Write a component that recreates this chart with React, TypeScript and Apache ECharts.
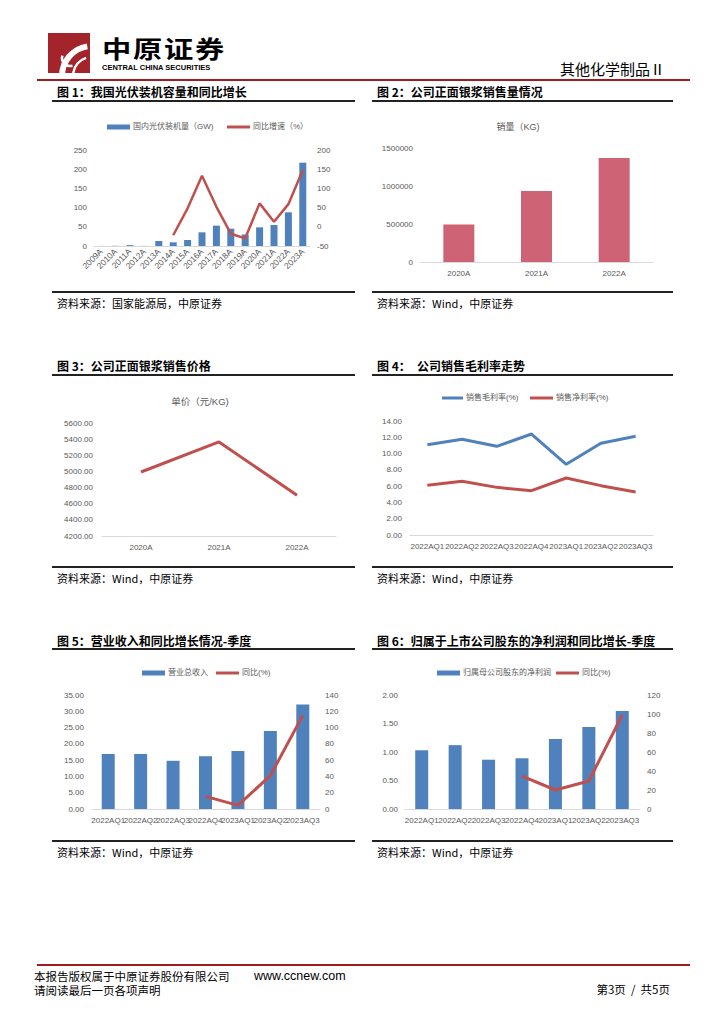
import React, { useEffect, useRef } from 'react';
import * as echarts from 'echarts';

const FONT = "'Liberation Sans', 'Noto Sans CJK SC', sans-serif";
const CJK = "'Noto Sans CJK SC', 'Liberation Sans', sans-serif";

// Figure 1
const pvYears = ['2009A', '2010A', '2011A', '2012A', '2013A', '2014A', '2015A', '2016A', '2017A', '2018A', '2019A', '2020A', '2021A', '2022A', '2023A'];
const pvCapacity = [0.16, 0.5, 2.2, 0.3, 13, 9.5, 15.6, 35.6, 53, 45, 30, 48.6, 54.7, 87.7, 217];
const pvGrowth = [null, null, null, null, null, -22, 48, 133, 52, -18, -30, 61, 13, 59, 148];

// Figure 2 & 3
const salesYears = ['2020A', '2021A', '2022A'];
const salesVolume = [494000, 935000, 1368000];
const unitPrice = [4993, 5365, 4704];

// Figure 4, 5, 6
const quarters = ['2022AQ1', '2022AQ2', '2022AQ3', '2022AQ4', '2023AQ1', '2023AQ2', '2023AQ3'];
const grossMargin = [11.09, 11.75, 10.89, 12.4, 8.68, 11.26, 12.12];
const netMargin = [6.1, 6.59, 5.85, 5.44, 7.0, 6.06, 5.28];
const revenue = [16.9, 16.9, 14.8, 16.2, 17.8, 23.95, 32.1];
const revenueYoY = [null, null, null, 15.5, 4.5, 41, 115];
const netProfit = [1.03, 1.12, 0.865, 0.89, 1.23, 1.44, 1.72];
const netProfitYoY = [null, null, null, 34.7, 20, 29.5, 99];

const BLUE = '#4f81bd';
const RED = '#c0504d';
const PINK = '#cd6375';
const GRAY = '#595959';

const axisLabelBase = { color: GRAY, fontSize: 8, fontFamily: FONT };

const catAxis = (gridIndex: number, data: string[], extra: any = {}) => ({
  type: 'category',
  gridIndex,
  data,
  axisTick: { show: false },
  axisLine: { lineStyle: { color: '#d9d9d9', width: 1 } },
  axisLabel: { ...axisLabelBase, interval: 0, margin: 7, ...(extra.axisLabel || {}) },
});

const valAxis = (gridIndex: number, min: number, max: number, interval: number, position: string, fmt?: any, margin = 7) => ({
  type: 'value',
  gridIndex,
  min,
  max,
  interval,
  position,
  splitLine: { show: false },
  axisLine: { show: false },
  axisTick: { show: false },
  axisLabel: { ...axisLabelBase, margin, formatter: fmt || ((v: number) => String(v)) },
});

const txt = (x: number, y: number, text: string, o: any = {}) => ({
  type: 'text',
  x,
  y,
  scaleX: o.scaleX || 1,
  silent: true,
  style: {
    text,
    fill: o.fill || '#000',
    fontSize: o.fontSize || 11,
    fontFamily: o.fontFamily || CJK,
    fontWeight: o.fontWeight || 'normal',
    textAlign: o.align || 'left',
    align: o.align || 'left',
    textVerticalAlign: 'middle',
    verticalAlign: 'middle',
  },
});

const hline = (x1: number, x2: number, y: number, w: number, color: string) => ({
  type: 'line',
  silent: true,
  shape: { x1, y1: y, x2, y2: y },
  style: { stroke: color, lineWidth: w },
});

const legendBase = {
  orient: 'horizontal',
  padding: 0,
  itemGap: 0,
  itemWidth: 23,
  itemHeight: 5,
  selectedMode: false,
  textStyle: { color: GRAY, fontSize: 8, fontFamily: FONT, padding: [0, 0, 0, -2] },
};
const lineLegend = { ...legendBase, itemHeight: 3 };

export default function App() {
  const ref = useRef<HTMLDivElement>(null);
  useEffect(() => {
    if (!ref.current) return;
    const chart = echarts.init(ref.current, null, { renderer: 'svg' });
    const TITLE = { fontSize: 12, fontWeight: 'bold', fontFamily: CJK };
    const SRC = { fontSize: 11, fontFamily: CJK };
    const LOGO = { fontSize: 24, fontWeight: 700, scaleX: 1.22 };
    const graphics: any[] = [
      // Header logo
      { type: 'rect', shape: { x: 48, y: 33, width: 42, height: 40 }, style: { fill: '#a3242a' } },
      { type: 'arc', shape: { cx: 92, cy: 76, r: 30, startAngle: Math.PI * 1.0, endAngle: Math.PI * 1.45, clockwise: true }, style: { stroke: '#fff', lineWidth: 6, fill: null } },
      { type: 'arc', shape: { cx: 92, cy: 76, r: 19, startAngle: Math.PI * 1.05, endAngle: Math.PI * 1.4, clockwise: true }, style: { stroke: '#fff', lineWidth: 2.5, fill: null } },
      { type: 'arc', shape: { cx: 70, cy: 58, r: 8, startAngle: Math.PI * 0.4, endAngle: Math.PI * 1.1, clockwise: true }, style: { stroke: '#fff', lineWidth: 2.5, fill: null } },
      txt(102, 48, '中', LOGO),
      txt(133, 48, '原', LOGO),
      txt(164, 48, '证', LOGO),
      txt(195, 48, '券', LOGO),
      txt(102, 67, 'CENTRAL CHINA SECURITIES', { fontSize: 7.5, fontWeight: 'bold', fontFamily: FONT }),
      txt(560, 68, '其他化学制品Ⅱ', { fontSize: 15 }),
      hline(37, 690, 80, 2, '#9e1b1f'),

      // Figure titles row 1
      txt(57, 91, '图 1：我国光伏装机容量和同比增长', TITLE),
      hline(52, 355, 101, 2, '#222'),
      txt(377, 91, '图 2：公司正面银浆销售量情况', TITLE),
      hline(372, 673, 101, 2, '#222'),
      hline(52, 355, 292, 2, '#222'),
      txt(57, 303, '资料来源：国家能源局，中原证券', SRC),
      hline(372, 673, 292, 2, '#222'),
      txt(377, 303, '资料来源：Wind，中原证券', SRC),
      txt(518, 127, '销量（KG)', { fontSize: 9, fill: GRAY, align: 'center', fontFamily: FONT }),

      // Row 2
      txt(57, 365, '图 3：公司正面银浆销售价格', TITLE),
      hline(52, 355, 375, 2, '#222'),
      txt(377, 365, '图 4：', TITLE),
      txt(417, 365, '公司销售毛利率走势', TITLE),
      hline(372, 673, 375, 2, '#222'),
      hline(52, 355, 567, 2, '#222'),
      txt(57, 578, '资料来源：Wind，中原证券', SRC),
      hline(372, 673, 567, 2, '#222'),
      txt(377, 578, '资料来源：Wind，中原证券', SRC),
      txt(200, 401, '单价（元/KG)', { fontSize: 9.5, fill: GRAY, align: 'center', fontFamily: FONT }),

      // Row 3
      txt(57, 640, '图 5：营业收入和同比增长情况-季度', TITLE),
      hline(52, 355, 649, 2, '#222'),
      txt(377, 640, '图 6：归属于上市公司股东的净利润和同比增长-季度', TITLE),
      hline(372, 673, 649, 2, '#222'),
      hline(52, 355, 841, 2, '#222'),
      txt(57, 852, '资料来源：Wind，中原证券', SRC),
      hline(372, 673, 841, 2, '#222'),
      txt(377, 852, '资料来源：Wind，中原证券', SRC),

      // Footer
      hline(37, 690, 965, 2, '#9e1b1f'),
      txt(34, 976, '本报告版权属于中原证券股份有限公司', { fontSize: 11.5 }),
      txt(254, 976, 'www.ccnew.com', { fontSize: 12.5, fontFamily: FONT }),
      txt(34, 990, '请阅读最后一页各项声明', { fontSize: 11.5 }),
      txt(670, 989, '第3页  /  共5页', { fontSize: 11.5, align: 'right' }),
    ];

    const option: any = {
      animation: false,
      backgroundColor: '#fff',
      textStyle: { fontFamily: FONT },
      grid: [
        { left: 94, top: 150, width: 216, height: 96 },
        { left: 420, top: 148, width: 233, height: 114 },
        { left: 102, top: 423, width: 234, height: 113 },
        { left: 410, top: 421, width: 243, height: 114 },
        { left: 92, top: 695, width: 227, height: 114 },
        { left: 405, top: 695, width: 234, height: 114 },
      ],
      xAxis: [
        catAxis(0, pvYears, { axisLabel: { rotate: 45, margin: 4, fontSize: 8.5 } }),
        catAxis(1, salesYears),
        catAxis(2, salesYears),
        catAxis(3, quarters),
        catAxis(4, quarters),
        catAxis(5, quarters),
      ],
      yAxis: [
        valAxis(0, 0, 250, 50, 'left'),
        valAxis(0, -50, 200, 50, 'right'),
        valAxis(1, 0, 1500000, 500000, 'left'),
        valAxis(2, 4200, 5600, 200, 'left', (v: number) => v.toFixed(2), 9),
        valAxis(3, 0, 14, 2, 'left', (v: number) => v.toFixed(2), 8),
        valAxis(4, 0, 35, 5, 'left', (v: number) => v.toFixed(2), 8),
        valAxis(4, 0, 140, 20, 'right', undefined, 6),
        valAxis(5, 0, 2, 0.5, 'left', (v: number) => v.toFixed(2), 7),
        valAxis(5, 0, 120, 20, 'right', undefined, 8),
      ],
      legend: [
        { ...legendBase, left: 107, top: 123, data: [{ name: '国内光伏装机量（GW)', icon: 'rect' }] },
        { ...lineLegend, left: 227, top: 123, data: [{ name: '同比增速（%）', icon: 'rect' }] },
        { ...lineLegend, left: 442, top: 394, itemWidth: 21, data: [{ name: '销售毛利率(%)', icon: 'rect' }] },
        { ...lineLegend, left: 530, top: 394, data: [{ name: '销售净利率(%)', icon: 'rect' }] },
        { ...legendBase, left: 142, top: 669, data: [{ name: '营业总收入', icon: 'rect' }] },
        { ...lineLegend, left: 216, top: 669, data: [{ name: '同比(%)', icon: 'rect' }] },
        { ...legendBase, left: 437, top: 669, data: [{ name: '归属母公司股东的净利润', icon: 'rect' }] },
        { ...lineLegend, left: 556, top: 669, data: [{ name: '同比(%) ', icon: 'rect' }] },
      ],
      series: [
        { name: '国内光伏装机量（GW)', type: 'bar', xAxisIndex: 0, yAxisIndex: 0, data: pvCapacity, barWidth: 7, itemStyle: { color: BLUE } },
        { name: '同比增速（%）', type: 'line', xAxisIndex: 0, yAxisIndex: 1, data: pvGrowth, symbol: 'none', lineStyle: { color: RED, width: 2.5 }, itemStyle: { color: RED } },
        { name: '销量（KG)', type: 'bar', xAxisIndex: 1, yAxisIndex: 2, data: salesVolume, barWidth: 31, itemStyle: { color: PINK } },
        { name: '单价（元/KG)', type: 'line', xAxisIndex: 2, yAxisIndex: 3, data: unitPrice, symbol: 'none', lineStyle: { color: RED, width: 3 }, itemStyle: { color: RED } },
        { name: '销售毛利率(%)', type: 'line', xAxisIndex: 3, yAxisIndex: 4, data: grossMargin, symbol: 'none', lineStyle: { color: BLUE, width: 3 }, itemStyle: { color: BLUE } },
        { name: '销售净利率(%)', type: 'line', xAxisIndex: 3, yAxisIndex: 4, data: netMargin, symbol: 'none', lineStyle: { color: RED, width: 3 }, itemStyle: { color: RED } },
        { name: '营业总收入', type: 'bar', xAxisIndex: 4, yAxisIndex: 5, data: revenue, barWidth: 13, itemStyle: { color: BLUE } },
        { name: '同比(%)', type: 'line', xAxisIndex: 4, yAxisIndex: 6, data: revenueYoY, symbol: 'none', lineStyle: { color: RED, width: 3 }, itemStyle: { color: RED } },
        { name: '归属母公司股东的净利润', type: 'bar', xAxisIndex: 5, yAxisIndex: 7, data: netProfit, barWidth: 13, itemStyle: { color: BLUE } },
        { name: '同比(%) ', type: 'line', xAxisIndex: 5, yAxisIndex: 8, data: netProfitYoY, symbol: 'none', lineStyle: { color: RED, width: 3 }, itemStyle: { color: RED } },
      ],
      graphic: { elements: graphics },
    };
    chart.setOption(option);
    return () => chart.dispose();
  }, []);
  return <div ref={ref} style={{ position: 'absolute', left: 0, top: 0, width: 724, height: 1024, background: '#fff' }} />;
}
